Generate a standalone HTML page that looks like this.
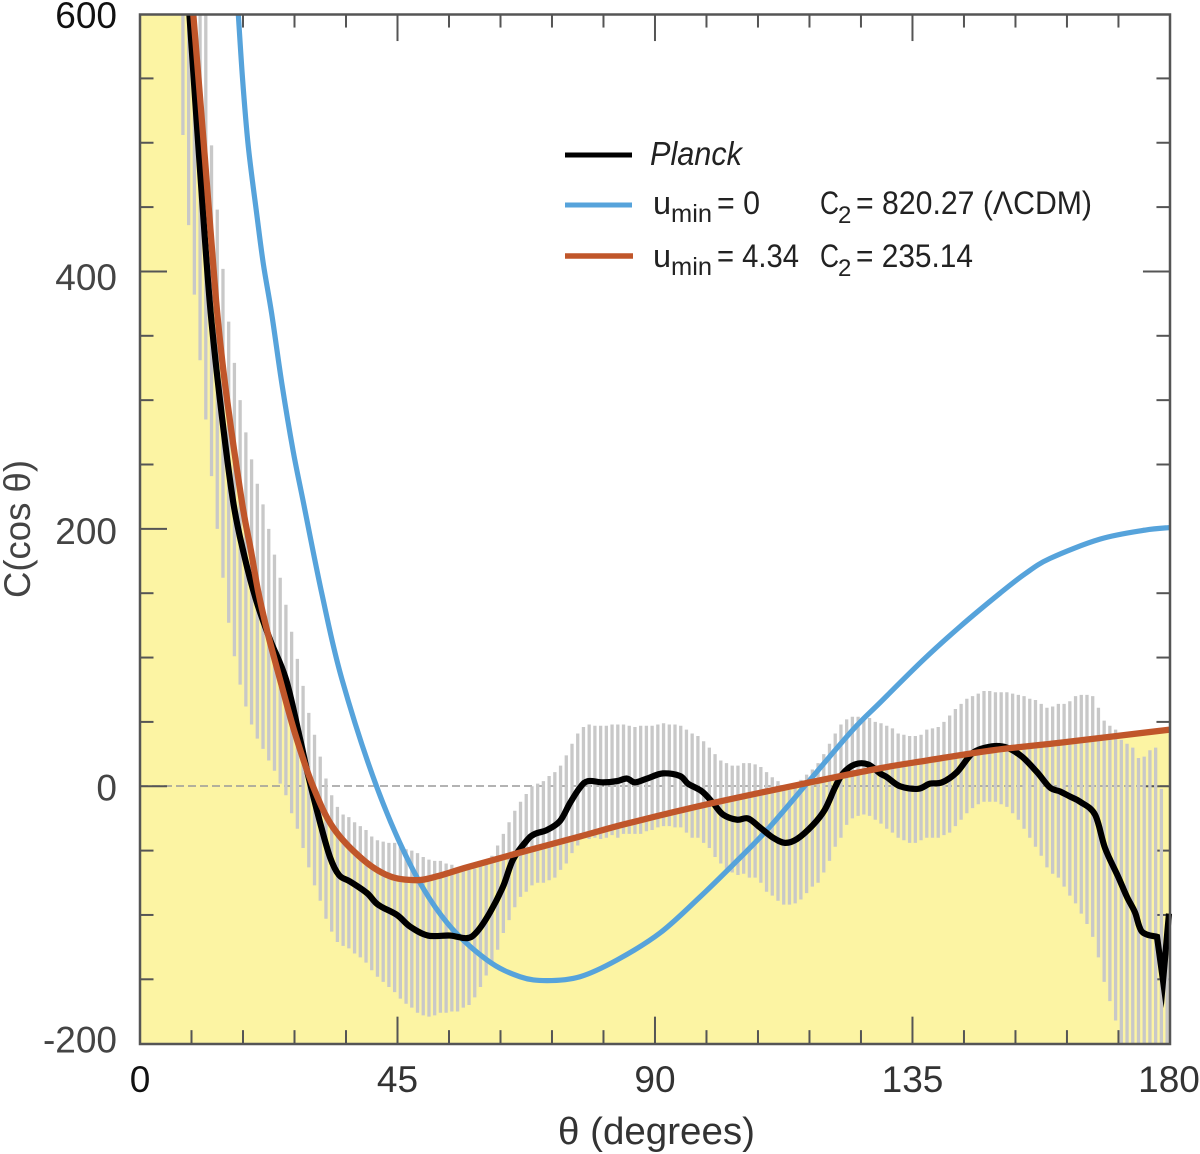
<!DOCTYPE html>
<html lang="en">
<head>
<meta charset="utf-8">
<title>C(cos θ) versus θ</title>
<style>
  html, body { margin: 0; padding: 0; background: #fff; }
  svg { display: block; font-family: "Liberation Sans", sans-serif; }
</style>
</head>
<body>
<svg id="chart" width="1200" height="1154" viewBox="0 0 1200 1154" xmlns="http://www.w3.org/2000/svg">
  <defs>
    <clipPath id="plot-clip"><rect x="140" y="14.5" width="1032" height="1029.5"/></clipPath>
  </defs>
  <path id="yellow-fill" fill="#fcf4a3" clip-path="url(#plot-clip)"/>
  <line x1="140" x2="1170" y1="786" y2="786" stroke="#9a9a9a" stroke-width="1.6" stroke-dasharray="8 4"/>
  <g id="ticks" stroke="#555" stroke-width="2"></g>
  <g id="bars" stroke="#c8c8c8" stroke-width="3.3" clip-path="url(#plot-clip)"></g>
  <path id="line-blue" fill="none" stroke="#56a3db" stroke-width="5.2" clip-path="url(#plot-clip)"/>
  <path id="line-planck" fill="none" stroke="#000" stroke-width="6.2" stroke-linejoin="miter" stroke-miterlimit="12" clip-path="url(#plot-clip)"/>
  <path id="line-orange" fill="none" stroke="#c0562a" stroke-width="6.3" clip-path="url(#plot-clip)"/>
  <rect x="140" y="14.5" width="1030" height="1029.5" fill="none" stroke="#555" stroke-width="2.5"/>
  <g id="y-labels" font-size="37" fill="#444" text-anchor="end"></g>
  <g id="x-labels" font-size="37" fill="#333" text-anchor="middle"></g>
  <text x="558" y="1144" font-size="38" fill="#333" textLength="197" lengthAdjust="spacingAndGlyphs">θ (degrees)</text>
  <text transform="translate(30,598) rotate(-90)" font-size="37" fill="#444" textLength="138" lengthAdjust="spacingAndGlyphs">C(cos θ)</text>
  <g fill="#222">
    <line x1="565" x2="632" y1="155" y2="155" stroke="#000" stroke-width="5"/>
    <text x="650" y="165" font-size="33" font-style="italic" textLength="92" lengthAdjust="spacingAndGlyphs">Planck</text>
    <line x1="565" x2="632" y1="205" y2="205" stroke="#56a3db" stroke-width="5"/>
    <text x="653" y="214" font-size="32.5">u</text>
    <text x="671" y="222" font-size="25" textLength="41" lengthAdjust="spacingAndGlyphs">min</text>
    <text x="717" y="214" font-size="32.5" textLength="43" lengthAdjust="spacingAndGlyphs">= 0</text>
    <text x="820" y="214" font-size="32.5" textLength="19" lengthAdjust="spacingAndGlyphs">C</text>
    <text x="838" y="223" font-size="24">2</text>
    <text x="856" y="214" font-size="32.5" textLength="236" lengthAdjust="spacingAndGlyphs">= 820.27 (ΛCDM)</text>
    <line x1="565" x2="633" y1="256" y2="256" stroke="#c0562a" stroke-width="5.5"/>
    <text x="653" y="267" font-size="32.5">u</text>
    <text x="671" y="275" font-size="25" textLength="41" lengthAdjust="spacingAndGlyphs">min</text>
    <text x="717" y="267" font-size="32.5" textLength="82" lengthAdjust="spacingAndGlyphs">= 4.34</text>
    <text x="820" y="267" font-size="32.5" textLength="19" lengthAdjust="spacingAndGlyphs">C</text>
    <text x="838" y="276" font-size="24">2</text>
    <text x="856" y="267" font-size="32.5" textLength="117" lengthAdjust="spacingAndGlyphs">= 235.14</text>
  </g>
</svg>
<script>
const yTickLabels = ["600", "400", "200", "0", "-200"];
const xTickLabels = ["0", "45", "90", "135", "180"];
const barStartTheta = 7.5;
const barUpper = [640,640,640,640,640,498,448,402,361,329,300,275,254,235,219,200,180,162,141,120,99,78,57,40,23,6,-7,-16,-22,-24,-28,-31,-34,-39,-42,-43,-44,-44,-47,-49,-50,-52,-55,-57,-58,-58,-60,-61,-64,-64,-65,-64,-62,-58,-54,-46,-37,-28,-19,-12,-6,0,2,4,8,11,16,24,33,41,46,48,47,47,47,48,48,48,47,46,47,47,47,48,49,48,48,47,44,41,39,35,30,25,20,18,16,16,18,18,17,15,11,7,4,1,-3,-1,5,9,13,18,25,33,41,48,52,54,54,54,53,50,49,47,45,41,40,39,39,40,44,45,46,50,55,60,64,68,70,72,74,74,73,73,73,72,71,70,68,67,64,61,62,64,64,66,70,71,71,70,61,51,47,44,36,33,30,22,23,28,30,-2,-127];
const barLower = [506,436,382,331,285,241,200,162,127,101,79,62,48,37,29,20,12,2,-7,-21,-33,-48,-63,-77,-89,-103,-113,-121,-124,-126,-130,-133,-137,-143,-148,-152,-156,-160,-165,-169,-172,-176,-178,-179,-178,-176,-176,-175,-175,-172,-170,-164,-156,-147,-137,-127,-114,-104,-94,-86,-82,-77,-75,-75,-73,-71,-65,-60,-52,-46,-40,-41,-40,-41,-40,-38,-40,-37,-37,-37,-37,-35,-34,-32,-31,-31,-32,-32,-36,-40,-40,-44,-48,-55,-60,-64,-67,-69,-68,-71,-71,-75,-82,-85,-89,-92,-92,-91,-88,-83,-78,-75,-67,-58,-47,-40,-30,-25,-23,-22,-23,-26,-29,-33,-36,-40,-42,-44,-44,-42,-40,-40,-40,-38,-36,-31,-26,-21,-17,-14,-12,-12,-12,-14,-16,-21,-26,-33,-40,-47,-54,-63,-68,-71,-78,-85,-91,-99,-107,-117,-133,-152,-167,-182,-205,-205,-205,-205,-205,-205,-205,-205,-205];
const planckTheta = [8.56,8.63,10.49,12.23,13.98,16.25,18.18,20.27,22.72,25.52,27.96,29.36,31.46,33.2,34.78,36.7,39.67,41.59,44.91,47.19,50.33,54.18,57.15,58.9,61.17,63.44,65.19,67.63,69.03,71.13,73.4,75.15,76.9,78.29,80.91,83.36,85.11,86.51,88.61,91.4,94.37,95.77,98.22,100.14,101.89,104.33,106.26,108.35,110.63,112.72,114.82,117.62,119.71,121.46,122.86,124.96,127.23,129.33,130.55,132.82,135.97,138.06,140.16,142.78,145.58,148.9,151.52,154.14,156.76,159.03,160.78,162.53,164.28,166.9,168.65,170.92,172.49,173.89,175.11,177.74,178.79,179.83];
const planckValues = [611,600,479,374,300,222,180,145,114,83,37,9,-28,-55,-69,-74,-83,-92,-100,-109,-116,-116,-118,-113,-98,-78,-57,-42,-37,-34,-27,-13,-1,4,3,4,6,3,6,10,8,2,-4,-13,-22,-26,-25,-32,-40,-44,-41,-30,-18,-1,10,17,17,10,7,0,-2,2,3,11,26,31,30,23,11,-1,-4,-8,-12,-22,-48,-70,-86,-98,-113,-117,-151,-99];
const blueTheta = [17.04,17.18,17.95,18.93,20.39,21.55,23.02,24.82,26.74,28.49,31.81,35.3,41.42,47.71,53.65,60.64,66.41,71.13,76.9,83.36,90.88,97.87,103.64,109.58,117.09,124.61,129.33,136.84,143.3,150.3,154.66,159.03,167.77,175.6,180];
const blueValues = [611,600,548,497,445,406,367,312,261,222,149,83,-1,-65,-106,-135,-148,-151,-148,-135,-114,-86,-61,-34,5,44,65,98,124,150,165,177,192,199,201];
const orangeTheta = [9.09,9.31,11.36,13.28,14.85,17.77,19.35,20.67,22.37,24.47,27.09,30.23,33.73,38.97,43.69,48.41,51.91,57.15,65.19,76.9,85.11,100.14,117.09,129.33,137.54,149.08,161.15,180];
const orangeValues = [611,600,487,378,313,222,184,151,118,83,41,0,-32,-57,-70,-73,-70,-63,-53,-39,-29,-13,3,14,20,28,34,44];

const SVG_NS = "http://www.w3.org/2000/svg";
function xScale(theta) { return 140 + theta * 5.722; }
function yScale(value) { return 786.25 - value * 1.287; }
function makeLine(parent, x1, y1, x2, y2) {
  const el = document.createElementNS(SVG_NS, "line");
  el.setAttribute("x1", x1.toFixed(2));
  el.setAttribute("y1", y1.toFixed(2));
  el.setAttribute("x2", x2.toFixed(2));
  el.setAttribute("y2", y2.toFixed(2));
  parent.appendChild(el);
  return el;
}
function smoothPath(ts, vs) {
  const p = ts.map(function (t, i) { return [xScale(t), yScale(vs[i])]; });
  let d = "M" + p[0][0].toFixed(2) + " " + p[0][1].toFixed(2);
  for (let i = 0; i < p.length - 1; i++) {
    const a = p[Math.max(i - 1, 0)], b = p[i], c = p[i + 1], e = p[Math.min(i + 2, p.length - 1)];
    d += "C" + (b[0] + (c[0] - a[0]) / 6).toFixed(2) + " " + (b[1] + (c[1] - a[1]) / 6).toFixed(2) + " " +
         (c[0] - (e[0] - b[0]) / 6).toFixed(2) + " " + (c[1] - (e[1] - b[1]) / 6).toFixed(2) + " " +
         c[0].toFixed(2) + " " + c[1].toFixed(2);
  }
  return d;
}

// yellow fill below the model curve
const orangeD = smoothPath(orangeTheta, orangeValues);
document.getElementById("yellow-fill").setAttribute("d",
  "M" + xScale(0) + " " + yScale(-200) + "L" + xScale(0) + " " + yScale(610) + "L" +
  orangeD.slice(1) + "L" + xScale(180) + " " + yScale(-200) + "Z");

// curves
document.getElementById("line-orange").setAttribute("d", orangeD);
document.getElementById("line-blue").setAttribute("d", smoothPath(blueTheta, blueValues));
let planckD = smoothPath(planckTheta.slice(0, -2), planckValues.slice(0, -2));
for (let i = planckTheta.length - 2; i < planckTheta.length; i++) {
  planckD += "L" + xScale(planckTheta[i]).toFixed(2) + " " + yScale(planckValues[i]).toFixed(2);
}
document.getElementById("line-planck").setAttribute("d", planckD);

// error bars
const barsGroup = document.getElementById("bars");
barUpper.forEach(function (up, i) {
  const t = barStartTheta + i;
  const bar = makeLine(barsGroup, xScale(t), yScale(up), xScale(t), yScale(barLower[i]));
  
  
});

// ticks on all four sides
const ticksGroup = document.getElementById("ticks");
for (let t = 9; t < 180; t += 9) {
  const len = t % 45 === 0 ? 27 : 13.5;
  const bottomTick = makeLine(ticksGroup, xScale(t), yScale(-200), xScale(t), yScale(-200) - len);
  
  
  const topTick = makeLine(ticksGroup, xScale(t), yScale(600), xScale(t), yScale(600) + len);
  
  
}
for (let v = -150; v < 600; v += 50) {
  const len = v % 200 === 0 ? 27 : 13.5;
  const leftTick = makeLine(ticksGroup, xScale(0), yScale(v), xScale(0) + len, yScale(v));
  
  
  const rightTick = makeLine(ticksGroup, xScale(180), yScale(v), xScale(180) - len, yScale(v));
  
  
}

// tick labels
function yLabelNudge(v) {
  if (v === 400) return 18.5;
  if (v === -200) return 9;
  if (v === 200) return 15;
  return 14;
}
const yLabelGroup = document.getElementById("y-labels");
yTickLabels.forEach(function (label) {
  const v = Number(label);
  const el = document.createElementNS(SVG_NS, "text");
  el.setAttribute("x", 117);
  el.setAttribute("y", (yScale(v) + yLabelNudge(v)).toFixed(1));
  if (v === 600) el.setAttribute("fill", "#111");
  el.textContent = label;
  
  
  yLabelGroup.appendChild(el);
});
const xLabelGroup = document.getElementById("x-labels");
xTickLabels.forEach(function (label) {
  const t = Number(label);
  const el = document.createElementNS(SVG_NS, "text");
  el.setAttribute("x", (t === 180 ? xScale(t) - 1 : xScale(t)).toFixed(1));
  el.setAttribute("y", 1092);
  if (t === 0) el.setAttribute("fill", "#111");
  el.textContent = label;
  
  
  xLabelGroup.appendChild(el);
});
</script>
</body>
</html>
